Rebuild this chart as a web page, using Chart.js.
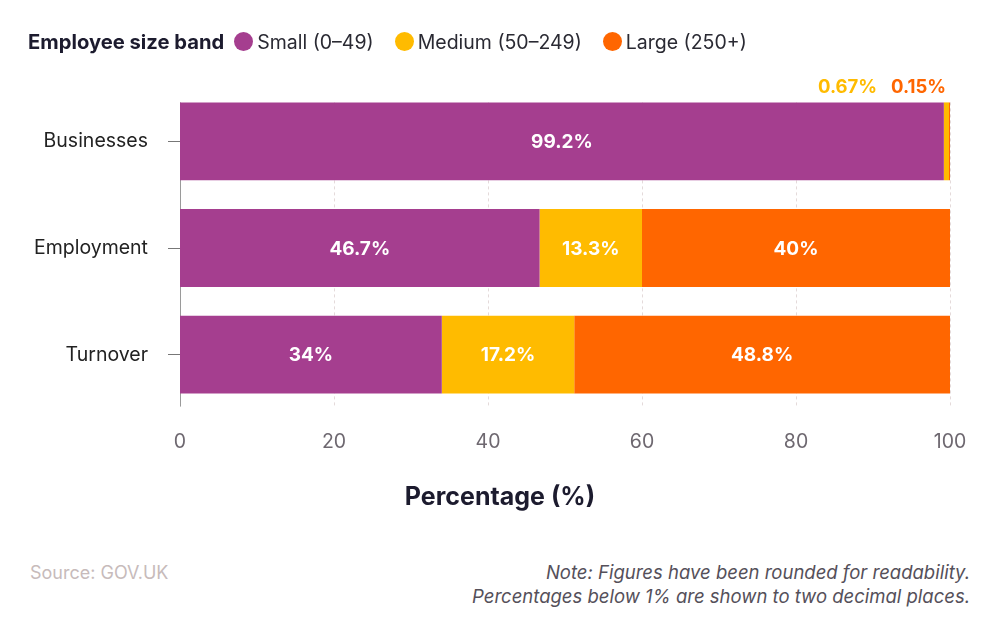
<!DOCTYPE html>
<html>
<head>
<meta charset="utf-8">
<script src="https://cdn.jsdelivr.net/npm/chart.js@4.4.0/dist/chart.umd.min.js"></script>
<style>
  body { margin: 0; background: #fff; font-family: Inter, sans-serif; }
  #wrap { position: relative; width: 1000px; height: 630px; overflow: hidden; }
  #chart { position: absolute; left: 0; top: 0; }
  #legend { position: absolute; left: 28px; top: 29px; display: flex; align-items: center; font-size: 19.5px; color: #2a2a33; white-space: nowrap; }
  #legend b { color: #1c1b2e; margin-right: 10px; font-size: 20.2px; }
  #legend .item { display: flex; align-items: center; margin-right: 21px; }
  #legend .dot { width: 19px; height: 19px; border-radius: 50%; margin-right: 4px; }
  #xtitle { position: absolute; left: 0; width: 1000px; top: 481px; text-align: center; font-size: 25px; font-weight: bold; color: #1c1b2e; }
  #source { position: absolute; left: 30px; top: 562px; font-size: 18px; color: #c7bbbb; }
  #note { position: absolute; right: 30px; top: 560px; font-size: 18.5px; line-height: 24px; color: #55505a; font-style: italic; text-align: right; }
</style>
</head>
<body>
<div id="wrap">
  <canvas id="chart" width="1000" height="540"></canvas>
  <div id="legend"></div>
  <div id="xtitle">Percentage (%)</div>
  <div id="source">Source: GOV.UK</div>
  <div id="note">Note: Figures have been rounded for readability.<br>Percentages below 1% are shown to two decimal places.</div>
</div>
<script>
const categories = ['Businesses', 'Employment', 'Turnover'];
const seriesNames = ['Small (0–49)', 'Medium (50–249)', 'Large (250+)'];
const small = [99.2, 46.7, 34];
const medium = [0.67, 13.3, 17.2];
const large = [0.15, 40, 48.8];
const colors = ['#a53e8f', '#ffbb00', '#ff6600'];
const xTicks = [0, 20, 40, 60, 80, 100];

Chart.defaults.font.family = 'Inter, sans-serif';

// legend in html
const legend = document.getElementById('legend');
legend.innerHTML = '<b>Employee size band</b>' + seriesNames.map((n, i) =>
  '<span class="item"><span class="dot" style="background:' + colors[i] + '"></span>' + n + '</span>').join('');

const gridPlugin = {
  id: 'grid',
  beforeDatasetsDraw(chart) {
    const ctx = chart.ctx;
    const x = chart.scales.x;
    const first = chart.getDatasetMeta(0).data[0];
    const last = chart.getDatasetMeta(0).data[categories.length - 1];
    const top = first.y - first.height / 2;
    const bottom = last.y + last.height / 2 + 13;
    ctx.save();
    ctx.lineWidth = 1;
    ctx.strokeStyle = '#e4dada';
    ctx.setLineDash([3, 3]);
    xTicks.slice(1).forEach(v => {
      const px = Math.round(x.getPixelForValue(v)) + 0.5;
      ctx.beginPath();
      ctx.moveTo(px, top);
      ctx.lineTo(px, bottom);
      ctx.stroke();
    });
    ctx.setLineDash([]);
    ctx.strokeStyle = '#9a9a9a';
    const lx = Math.round(x.getPixelForValue(0)) + 0.5;
    ctx.beginPath();
    ctx.moveTo(lx, top);
    ctx.lineTo(lx, bottom);
    ctx.stroke();
    ctx.restore();
  }
};

const labelPlugin = {
  id: 'labels',
  afterDatasetsDraw(chart) {
    const ctx = chart.ctx;
    ctx.save();
    ctx.font = 'bold 19px Inter, sans-serif';
    ctx.textBaseline = 'middle';
    const outside = [];
    chart.data.datasets.forEach((ds, di) => {
      chart.getDatasetMeta(di).data.forEach((el, i) => {
        const v = ds.data[i];
        if (v >= 5) {
          ctx.fillStyle = '#ffffff';
          ctx.textAlign = 'center';
          ctx.fillText(v + '%', (el.x + el.base) / 2, el.y + 1);
        } else {
          outside.push({ el, v, color: ds.backgroundColor, i });
        }
      });
    });
    // small values drawn above the bar, right to left
    ctx.font = 'bold 18.5px Inter, sans-serif';
    let right = null;
    for (let k = outside.length - 1; k >= 0; k--) {
      const o = outside[k];
      const txt = o.v + '%';
      if (right === null) right = o.el.x - 4;
      ctx.fillStyle = o.color;
      ctx.textAlign = 'right';
      ctx.fillText(txt, right, o.el.y - o.el.height / 2 - 15);
      right -= ctx.measureText(txt).width + 14;
    }
    ctx.restore();
  }
};

new Chart(document.getElementById('chart'), {
  type: 'bar',
  data: {
    labels: categories,
    datasets: [small, medium, large].map((d, i) => ({
      label: seriesNames[i],
      data: d,
      backgroundColor: colors[i],
      borderWidth: 0,
      barPercentage: 0.73,
      categoryPercentage: 1
    }))
  },
  options: {
    indexAxis: 'y',
    responsive: false,
    animation: false,
    layout: { padding: { top: 88, right: 50, left: 0, bottom: 0 } },
    plugins: { legend: { display: false }, tooltip: { enabled: false } },
    scales: {
      x: {
        stacked: true,
        min: 0,
        max: 100,
        afterBuildTicks: s => { s.ticks = xTicks.map(v => ({ value: v })); },
        afterFit: s => { s.height = 132; },
        grid: { display: false },
        border: { display: false },
        ticks: { color: '#6e6870', font: { size: 19.5 }, padding: 14 }
      },
      y: {
        stacked: true,
        afterFit: s => { s.width = 180; },
        grid: { offset: false, drawOnChartArea: false, drawTicks: true, tickLength: 12, color: '#777777' },
        border: { display: false },
        ticks: { color: '#222222', font: { size: 19.5 }, padding: 20 }
      }
    }
  },
  plugins: [gridPlugin, labelPlugin]
});
</script>
</body>
</html>
